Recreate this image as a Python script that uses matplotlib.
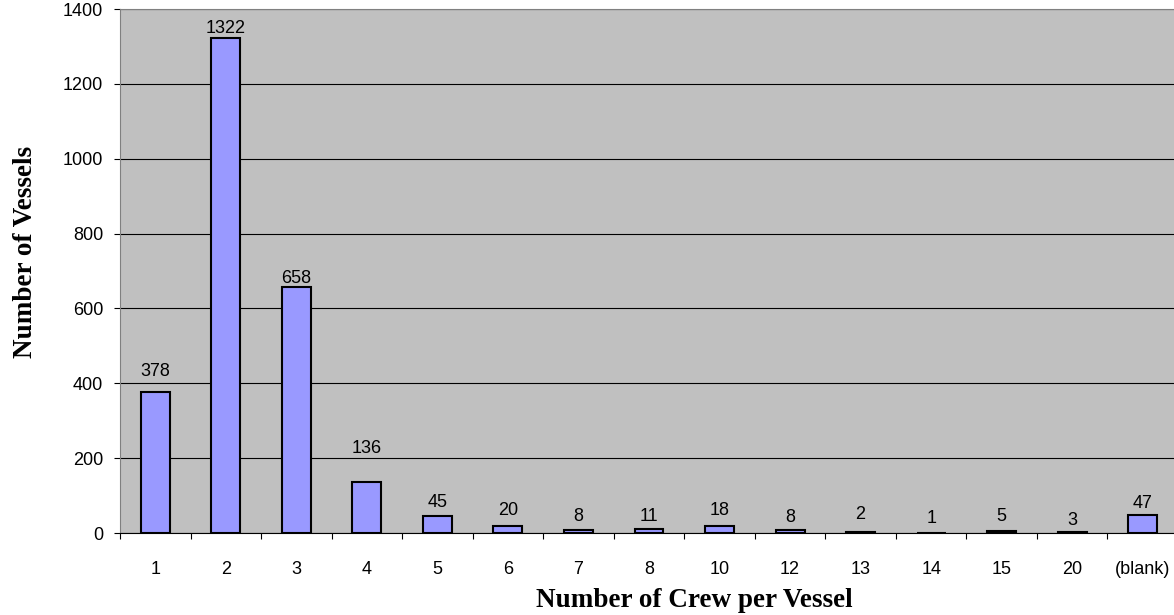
import matplotlib.pyplot as plt

crew = ["1", "2", "3", "4", "5", "6", "7", "8", "10", "12", "13", "14", "15", "20", "(blank)"]
vessels = [378, 1322, 658, 136, 45, 20, 8, 11, 18, 8, 2, 1, 5, 3, 47]
y_ticks = [0, 200, 400, 600, 800, 1000, 1200, 1400]
# gap (px) between bar top and its value label, as Excel placed them
label_gap = [16, 5, 4, 29, 9, 11, 9, 8, 11, 8, 13, 10, 10, 7, 7]

fig = plt.figure(figsize=(11.74, 6.15), dpi=100)
ax = fig.add_axes([120 / 1174, 82 / 615, 1058 / 1174, 524 / 615])
ax.set_facecolor("#C0C0C0")

x = list(range(len(crew)))
ax.bar(x, vessels, width=0.41, color="#9999FF", edgecolor="black", linewidth=1.5, zorder=3)

for xi, v, g in zip(x, vessels, label_gap):
    ax.annotate(str(v), (xi, v), xytext=(0, g * 0.72), textcoords="offset points",
                ha="center", va="baseline", fontsize=13, family="Liberation Sans")

ax.set_xlim(-0.5, len(crew) - 0.5)
ax.set_ylim(0, 1400)
ax.set_yticks(y_ticks)
ax.set_yticklabels([str(t) for t in y_ticks], family="Liberation Sans", fontsize=13)
ax.yaxis.grid(True, color="black", linewidth=0.8, zorder=1)
ax.set_axisbelow(True)

# category labels centered, tick marks between categories
ax.set_xticks(x)
ax.set_xticklabels(crew, family="Liberation Sans", fontsize=13)
ax.tick_params(axis="x", which="major", length=0, pad=20)
ax.set_xticks([i + 0.5 for i in range(-1, len(crew))], minor=True)
ax.tick_params(axis="x", which="minor", length=4, width=0.8, color="black", direction="out")
ax.tick_params(axis="y", length=4, width=0.8, color="black", pad=8)

for s in ["left", "top", "right"]:
    ax.spines[s].set_color("#808080")
ax.spines["bottom"].set_color("black")

ax.set_xlabel("Number of Crew per Vessel", family="Liberation Serif", fontweight="bold",
              fontsize=19.5)
ax.xaxis.set_label_coords(0.543, -0.128)
ax.xaxis.label.set_va("center")
ax.set_ylabel("Number of Vessels", family="Liberation Serif", fontweight="bold",
              fontsize=19.5)
ax.yaxis.set_label_coords(-0.089, 0.536)
ax.yaxis.label.set_va("center")

fig.savefig("out.png", dpi=100)
